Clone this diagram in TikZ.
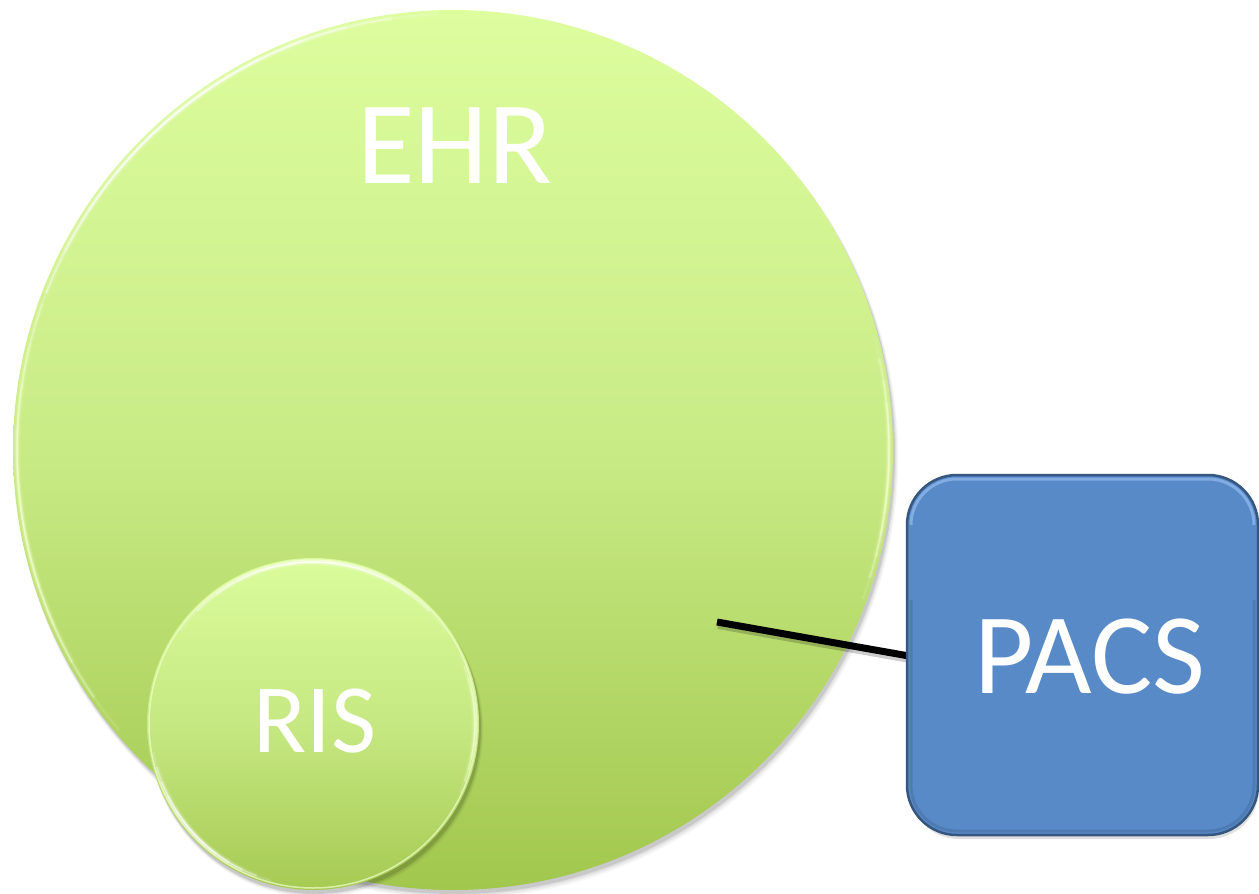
\documentclass[tikz,border=0pt]{standalone}
\usepackage{fontspec}
\setmainfont{Carlito}
\definecolor{ehrtop}{HTML}{DDFD9E}
\definecolor{ehrmid}{HTML}{C9EB86}
\definecolor{ehrbot}{HTML}{A2C74D}
\definecolor{ristop}{HTML}{DBFC9B}
\definecolor{rismid}{HTML}{C6E882}
\definecolor{risbot}{HTML}{A6CA53}
\definecolor{rimlight}{HTML}{F2FFCC}
\definecolor{pacsfill}{HTML}{588AC8}
\definecolor{pacsedge}{HTML}{34567F}
\definecolor{pacshl}{HTML}{8DB6EA}
\begin{document}
\begin{tikzpicture}[x=1pt,y=-1pt,
  bubble/.style={circle, inner sep=0pt, draw=none},
  caption/.style={text=white, inner sep=0pt, anchor=center},
  softshadow/.style={fill=black, draw=none},
  linkline/.style={line width=7pt, draw=black, line cap=butt},
  pacsbox/.style={rectangle, rounded corners=50pt, inner sep=0pt,
    minimum width=351pt, minimum height=360pt,
    fill=pacsfill, draw=pacsedge, line width=2.5pt}]
\useasboundingbox (0,0) rectangle (1259,894);

% glossy rim fading out at both ends:
% centre x, centre y, radius, start angle, end angle, colour
\newcommand\glossarc[6]{%
  \foreach \i in {0,...,11}{%
    \pgfmathsetmacro\angA{#4+(#5-#4)*\i/12}%
    \pgfmathsetmacro\angB{#4+(#5-#4)*(\i+1)/12}%
    \pgfmathsetmacro\fade{sin(180*(\i+0.5)/12)}%
    \foreach \w/\o in {7/0.12,4.5/0.25,2.5/0.45,1.2/0.8}{%
      \pgfmathsetmacro\op{\o*\fade}%
      \draw[draw=#6, line width=\w pt, opacity=\op]
        (#1,#2) ++(\angA:#3) arc (\angA:\angB:#3);}}}

% soft shadow under the large circle
\foreach \k/\o in {0/0.10,1/0.06,2/0.04,3/0.03}
  \fill[softshadow, opacity=\o] (455+\k*0.5,454+\k) circle (440+\k*0.6);

% EHR circle
\node[bubble, minimum size=880pt, top color=ehrtop, bottom color=ehrbot,
      middle color=ehrmid] (ehr) at (453,450) {};
\glossarc{453}{450}{436}{195}{268}{white}
\glossarc{453}{450}{436}{140}{205}{rimlight}
\glossarc{453}{450}{436}{345}{380}{rimlight}

% soft shadow under the small circle
\foreach \k/\o in {0/0.12,1/0.07,2/0.04}
  \fill[softshadow, opacity=\o] (315+\k*0.5,728+\k) circle (166+\k*0.6);

% RIS circle
\node[bubble, minimum size=332pt, top color=ristop, bottom color=risbot,
      middle color=rismid] (ris) at (313,724) {};
\draw[draw=rimlight, line width=1.5pt, opacity=0.7] (ris.center) circle (164);
\glossarc{313}{724}{162}{215}{325}{white}
\glossarc{313}{724}{162}{105}{170}{white}
\glossarc{313}{724}{162}{335}{385}{rimlight}

% labels of the circles
\node[caption, font=\fontsize{118}{120}\selectfont] (ehrlabel) at (455,146) {EHR};
\node[caption, font=\fontsize{98}{100}\selectfont] (rislabel) at (315,721) {RIS};

% link from EHR to PACS
\coordinate (ehrlink) at (717,622);
\coordinate (pacsport) at (909,656);
\draw[line width=8pt, draw=black, opacity=0.2] ([shift={(1,3)}]ehrlink) -- ([shift={(1,3)}]pacsport);
\draw[linkline] (ehrlink) -- (pacsport);

% PACS box with shadow and bevel
\fill[softshadow, opacity=0.12, rounded corners=50pt] (909,479) rectangle (1259,839);
\node[pacsbox] (pacs) at (1082.5,655) {};
\draw[pacshl, line width=3pt, opacity=0.8] (911,525) arc (180:270:46) -- (1208,479) arc (270:360:46);
\draw[draw=black, opacity=0.10, line width=3pt, rounded corners=46pt]
  (911,600) -- (911,831) -- (1254,831) -- (1254,600);
\node[caption, font=\fontsize{115}{118}\selectfont] (pacslabel) at (1090,657) {PACS};
\end{tikzpicture}
\end{document}
